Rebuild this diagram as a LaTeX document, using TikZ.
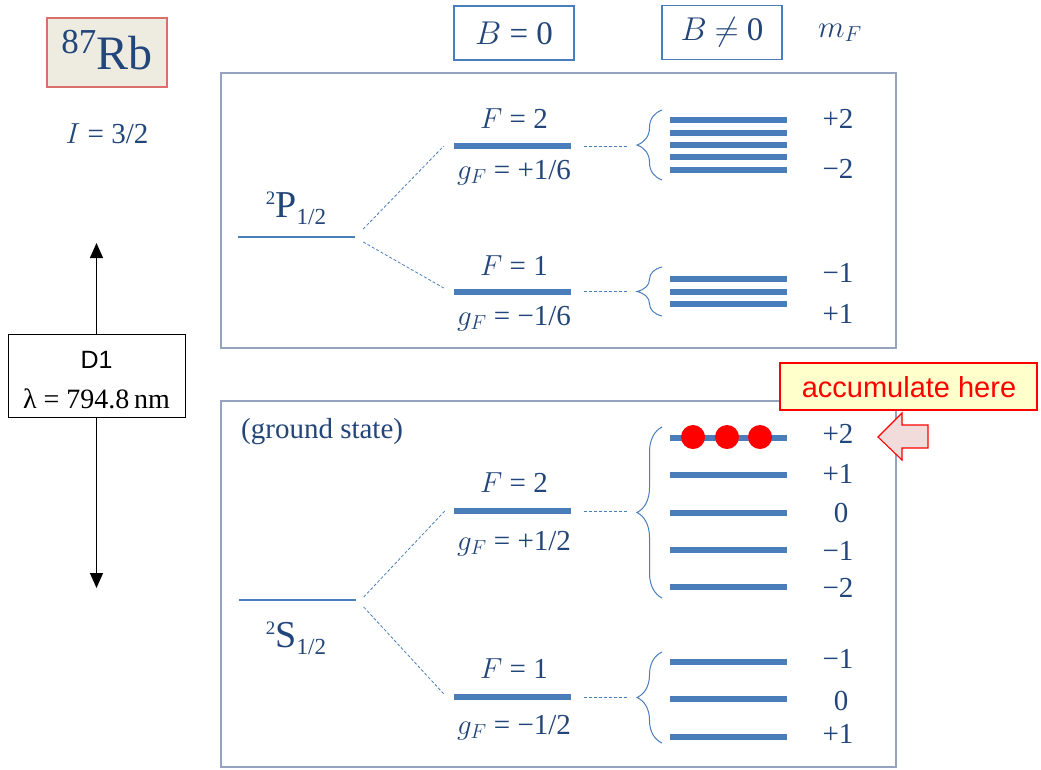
\RequirePackage{fix-cm}
\documentclass[tikz,border=0pt]{standalone}
\usepackage{fontspec}
\setmainfont{Liberation Serif}
\setsansfont{Liberation Sans}
\usetikzlibrary{calc,decorations.pathreplacing,arrows.meta}
\newcommand{\fsz}[1]{\fontsize{#1}{#1}\selectfont}
\definecolor{tblue}{HTML}{22457A}
\definecolor{barblue}{HTML}{4A7EBB}
\definecolor{framec}{HTML}{95A3BF}
\definecolor{rbfill}{HTML}{EEECE1}
\definecolor{rbborder}{HTML}{D9706C}
\definecolor{pinkfill}{HTML}{F2DCDB}
\definecolor{yellowfill}{HTML}{FFFFCC}
\tikzset{
  lbl/.style={text=tblue, font=\fsz{29}, inner sep=0pt, anchor=base},
  fbar/.style={fill=barblue, minimum width=117pt, minimum height=6pt, inner sep=0pt, draw=none},
  thinlev/.style={fill=barblue, minimum width=117pt, minimum height=2.5pt, inner sep=0pt, draw=none},
  dashln/.style={draw=barblue, line width=0.8pt, dash pattern=on 3pt off 2pt},
  framebox/.style={draw=framec, line width=1.2pt},
  bbox/.style={draw=barblue, line width=1.2pt, text=tblue, font=\fsz{33}, inner sep=0pt, minimum height=54pt},
  brc/.style={draw=barblue, line width=1pt, decorate, decoration={brace, amplitude=25pt}},
  blk/.style={-{Triangle[length=15pt,width=13pt]}, line width=1.3pt, draw=black},
  dot/.style={circle, fill=red, minimum size=24pt, inner sep=0pt, draw=none}
}
\begin{document}
\begin{tikzpicture}[x=1pt,y=-1pt]
\useasboundingbox (0,0) rectangle (1041,769);
\fill[white] (0,0) rectangle (1041,769);

% ---- left column ----
\node[draw=rbborder, fill=rbfill, line width=1.2pt, minimum width=120pt, minimum height=69pt, inner sep=0pt] (rb) at (107,52.5) {};
\node[lbl] (rbt) at (107,69) {{\fsz{35}\raisebox{16pt}{87}}{\fsz{48}Rb}};
\node[lbl] (spin) at (107,143) {$I$ = 3/2};

\node[draw=black, line width=1pt, minimum width=177pt, minimum height=83pt, inner sep=0pt] (D1) at (96.5,375.5) {};
\node[anchor=base, inner sep=0pt, font=\sffamily\fsz{25}] (D1a) at (96.5,368) {D1};
\node[anchor=base, inner sep=0pt, font=\fsz{28}] (D1b) at (96.5,408) {λ = 794.8\,nm};
\coordinate (upend) at (96.5,243);
\coordinate (downend) at (96.5,588);
\draw[blk] (D1.north) -- (upend);
\draw[blk] (D1.south) -- (downend);

% ---- headers ----
\node[bbox, minimum width=120pt] (b0) at (514,33) {$B$ = 0};
\node[bbox, minimum width=120pt] (b1) at (722,32.5) {$B$ $\neq$ 0};
\node[lbl, font=\fsz{31}] (mf) at (840,37) {$m_F$};

% ---- frames ----
\draw[framebox] (221,73) rectangle (896,348);
\draw[framebox] (221,401) rectangle (896,767);

% ---- upper: 2P1/2 ----
\node[thinlev] (P) at (296.5,237) {};
\node[lbl, font=\fsz{38}] (Plbl) at (296,217) {{\fsz{19}\raisebox{13pt}{2}}P{\fsz{23}\raisebox{-7pt}{1/2}}};
\node[fbar] (P2) at (512.5,146) {};
\node[fbar] (P1) at (512.5,292) {};
\draw[dashln] ($(P.east)+(8,-8)$) -- ($(P2.west)+(-10,0)$);
\draw[dashln] ($(P.east)+(8,5)$) -- ($(P1.west)+(-10,-4)$);
\node[lbl] (P2F) at (514,128) {$F$ = 2};
\node[lbl] (P2g) at (514,179) {$g_F$ = +1/6};
\node[lbl] (P1F) at (514,275) {$F$ = 1};
\node[lbl] (P1g) at (514,325) {$g_F$ = −1/6};
\draw[dashln] ($(P2.east)+(13,0)$) -- ($(P2.east)+(56,0)$);
\draw[dashln] ($(P1.east)+(13,-1)$) -- ($(P1.east)+(56,-1)$);
\draw[brc] (662,180) -- (662,110);
\draw[brc] (662,316) -- (662,267);
\foreach \yy/\nn in {120/a,133/b,145/c,157/d,170/e}
  \node[fbar] (P2\nn) at (728.5,\yy) {};
\foreach \yy/\nn in {279/a,292/b,304/c}
  \node[fbar] (P1\nn) at (728.5,\yy) {};
\node[lbl] (mPa) at (838,128) {+2};
\node[lbl] (mPb) at (838,178) {−2};
\node[lbl] (mPc) at (838,282) {−1};
\node[lbl] (mPd) at (838,323) {+1};

% ---- lower: 2S1/2 ----
\node[lbl, anchor=base west] (gs) at (241,438) {(ground state)};
\node[thinlev] (S) at (297,600) {};
\node[lbl, font=\fsz{38}] (Slbl) at (296,647) {{\fsz{19}\raisebox{13pt}{2}}S{\fsz{23}\raisebox{-7pt}{1/2}}};
\node[fbar] (S2) at (512.5,511) {};
\node[fbar] (S1) at (512.5,697) {};
\draw[dashln] ($(S.east)+(8,-3)$) -- ($(S2.west)+(-9,0)$);
\draw[dashln] ($(S.east)+(8,7)$) -- ($(S1.west)+(-9,-2)$);
\node[lbl] (S2F) at (514,492) {$F$ = 2};
\node[lbl] (S2g) at (514,550) {$g_F$ = +1/2};
\node[lbl] (S1F) at (514,678) {$F$ = 1};
\node[lbl] (S1g) at (514,734) {$g_F$ = −1/2};
\draw[dashln] ($(S2.east)+(13,0)$) -- ($(S2.east)+(56,0)$);
\draw[dashln] ($(S1.east)+(13,0)$) -- ($(S1.east)+(56,0)$);
\draw[brc] (662,598) -- (662,427);
\draw[brc] (662,743) -- (662,652);
\foreach \yy/\nn in {438/a,475/b,513/c,550/d,587/e}
  \node[fbar] (S2\nn) at (728.5,\yy) {};
\foreach \yy/\nn in {662/a,699/b,737/c}
  \node[fbar] (S1\nn) at (728.5,\yy) {};
\node[lbl] (mSa) at (838,443) {+2};
\node[lbl] (mSb) at (838,483) {+1};
\node[lbl] (mSc) at (841,522) {0};
\node[lbl] (mSd) at (838,560) {−1};
\node[lbl] (mSe) at (838,597) {−2};
\node[lbl] (mSf) at (838,668) {−1};
\node[lbl] (mSg) at (841,710) {0};
\node[lbl] (mSh) at (838,743) {+1};

% ---- population dots ----
\node[dot] (dA) at (693,437) {};
\node[dot] (dB) at (727,437) {};
\node[dot] (dC) at (760,437) {};

% ---- annotation ----
\node[draw=red, fill=yellowfill, line width=1.6pt, minimum width=257pt, minimum height=47pt, inner sep=0pt] (acc) at (908.5,386.5) {};
\node[anchor=base, inner sep=0pt, text=red, font=\sffamily\fsz{29}] (acct) at (909,397) {accumulate here};
\draw[draw=red, fill=pinkfill, line width=1.1pt, line join=miter]
  (878,437) -- (902,413) -- (902,425) -- (928,425) -- (928,448) -- (902,448) -- (902,460) -- cycle;
\end{tikzpicture}
\end{document}
